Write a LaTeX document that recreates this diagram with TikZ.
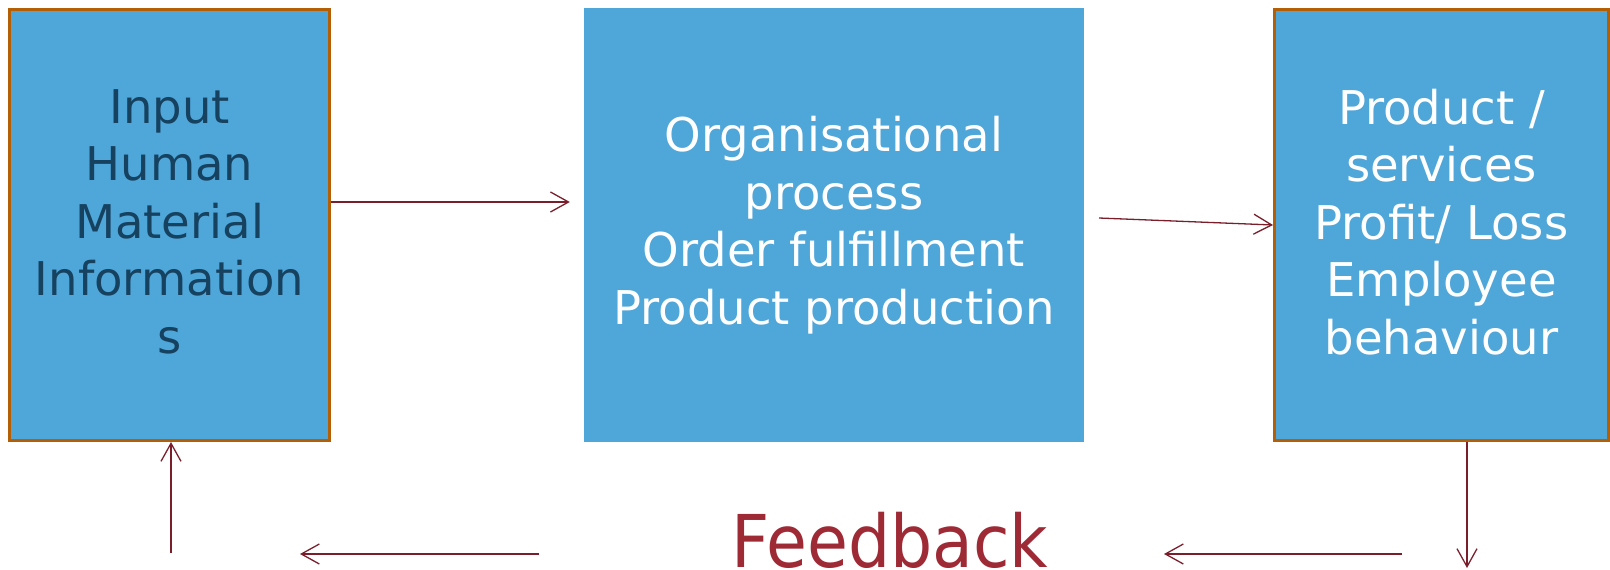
\documentclass[tikz,border=0pt]{standalone}
\usepackage{fontspec}
\setmainfont{DejaVu Sans}
\usetikzlibrary{arrows.meta}
\definecolor{boxblue}{RGB}{79,166,217}
\definecolor{boxborder}{RGB}{180,95,6}
\definecolor{arrowc}{RGB}{122,30,44}
\definecolor{fbred}{RGB}{158,42,54}
\definecolor{darktext}{RGB}{22,65,95}
\tikzset{
  blk/.style={rectangle, fill=boxblue, inner sep=0pt, align=center,
    font=\fontsize{46.5}{57.5}\selectfont},
  bordered/.style={draw=boxborder, line width=3pt},
  arr/.style={draw=arrowc, line width=1.3pt,
    -{Straight Barb[length=18pt,width=20pt,line width=1.3pt]}},
}
\begin{document}
\begin{tikzpicture}[x=1pt,y=-1pt]
\useasboundingbox (0,0) rectangle (1610,570);
\node[blk, bordered, text=darktext, minimum width=320pt, minimum height=431pt]
  (in) at (169.5,225) {Input\\Human\\Material\\Information\\s\rule[-7pt]{0pt}{7pt}};
\node[blk, text=white, minimum width=500pt, minimum height=434pt]
  (mid) at (834,225) {Organisational\\process\\Order fulfillment\\Product production};
\node[blk, bordered, text=white, minimum width=334pt, minimum height=431pt]
  (out) at (1441.5,225) {Product /\\services\\Profit/ Loss\\Employee\\behaviour\rule[-7pt]{0pt}{7pt}};
\node[anchor=base, inner sep=0pt, text=fbred, font=\fontsize{70}{80}\selectfont]
  (fb) at (890,567) {\scalebox{0.95}[1.04]{Feedback}};
\coordinate (upstart) at (171,553);
\coordinate (lbs) at (539,554);
\coordinate (lbe) at (300,554);
\coordinate (rbs) at (1402,554);
\coordinate (rbe) at (1164,554);
\coordinate (dend) at (1467,568);
\coordinate (a1s) at (0,202);
\coordinate (a2s) at (1099,218);
\draw[arr] (in.east |- a1s) -- ([xshift=-14pt]mid.west |- a1s);
\draw[arr] (a2s) -- (out.west);
\draw[arr] (out.south -| dend) -- (dend);
\draw[arr] (rbs) -- (rbe);
\draw[arr] (lbs) -- (lbe);
\draw[arr] (upstart) -- (in.south -| upstart);
\end{tikzpicture}
\end{document}
